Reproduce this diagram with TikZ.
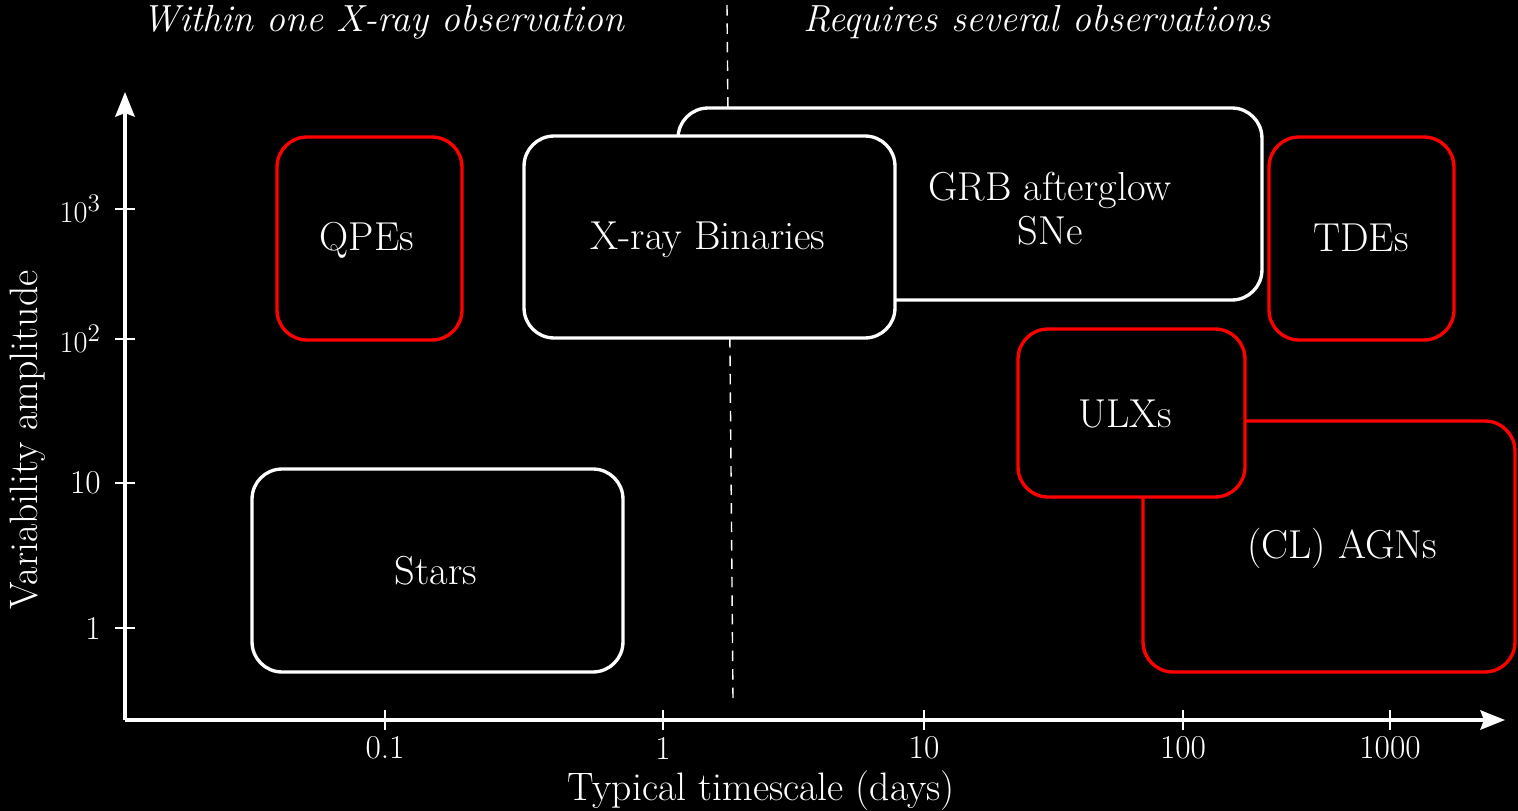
\documentclass[tikz,border=0pt]{standalone}
\usetikzlibrary{arrows.meta}
\begin{document}
\begin{tikzpicture}[x=0.02cm,y=-0.02cm,
  every node/.style={text=white},
  box/.style={draw, rounded corners=0.6cm, fill=black, line width=1.9pt, inner sep=0pt},
  wbox/.style={box, draw=white},
  rbox/.style={box, draw=red},
  lbl/.style={font=\fontsize{23}{27}\selectfont},
  alab/.style={font=\fontsize{22.6}{27}\selectfont},
  head/.style={font=\fontsize{21.5}{25}\selectfont\itshape},
  tick/.style={font=\fontsize{19}{22}\selectfont},
  axis/.style={draw=white, line width=1.9pt, -{Stealth[length=14pt,width=11pt,inset=2pt]}},
  tk/.style={draw=white, line width=1pt}]
% canvas
\fill[black] (0,0) rectangle (1518,811);
\useasboundingbox (0,0) rectangle (1518,811);

% split between single and multiple observations
\coordinate (dtop) at (727,5);
\coordinate (dbot) at (733,700);
\draw[white, line width=0.8pt, dash pattern=on 6pt off 4.5pt] (dtop) -- (dbot);

% headings
\node[head] (h1) at (383,22) {Within one X-ray observation};
\node[head] (h2) at (1037,22) {Requires several observations};

% axes
\coordinate (o) at (125,720);
\coordinate (ytip) at (125,92);
\coordinate (xtip) at (1505,720);
\draw[axis] (o) -- (ytip);
\draw[axis] (o) -- (xtip);

% y ticks
\foreach \yy/\lab in {209/{$10^3$}, 339/{$10^2$}, 483/{10}, 628/{1}} {
  \draw[tk] (115,\yy) -- (135,\yy);
  \node[tick, anchor=east] at (107,\yy) {\lab};
}
% x ticks
\foreach \xx/\lab in {385/0.1, 663/1, 924/10, 1183/100, 1390/1000} {
  \draw[tk] (\xx,710) -- (\xx,730);
  \node[tick] at (\xx,748) {\lab};
}

% axis titles
\node[alab, rotate=90] (ylab) at (28,440) {Variability amplitude};
\node[alab] (xlab) at (761,791) {Typical timescale (days)};

% source classes
\node[wbox, minimum width=11.68cm, minimum height=3.84cm] (grb) at (970,204) {};
\node[lbl, align=center, font=\fontsize{23}{25}\selectfont] (grbt) at (1050,209) {GRB afterglow\\SNe};
\node[wbox, minimum width=7.42cm, minimum height=4.04cm] (xrb) at (709.5,237) {};
\node[lbl] (xrbt) at (708,240) {X-ray Binaries};
\node[rbox, minimum width=3.7cm, minimum height=4.06cm] (qpe) at (369.5,238.5) {};
\node[lbl] (qpet) at (367,240) {QPEs};
\node[rbox, minimum width=3.7cm, minimum height=4.06cm] (tde) at (1361.5,238.5) {};
\node[lbl] (tdet) at (1361,238) {TDEs};
\node[wbox, minimum width=7.42cm, minimum height=4.06cm] (stars) at (437.5,570.5) {};
\node[lbl] (starst) at (436,571) {Stars};
\node[rbox, minimum width=7.44cm, minimum height=5.02cm] (agn) at (1329,546.5) {};
\node[lbl] (agnt) at (1342,548) {(CL) AGNs};
\node[rbox, minimum width=4.54cm, minimum height=3.36cm] (ulx) at (1131.5,413) {};
\node[lbl] (ulxt) at (1125,414) {ULXs};
\end{tikzpicture}
\end{document}
